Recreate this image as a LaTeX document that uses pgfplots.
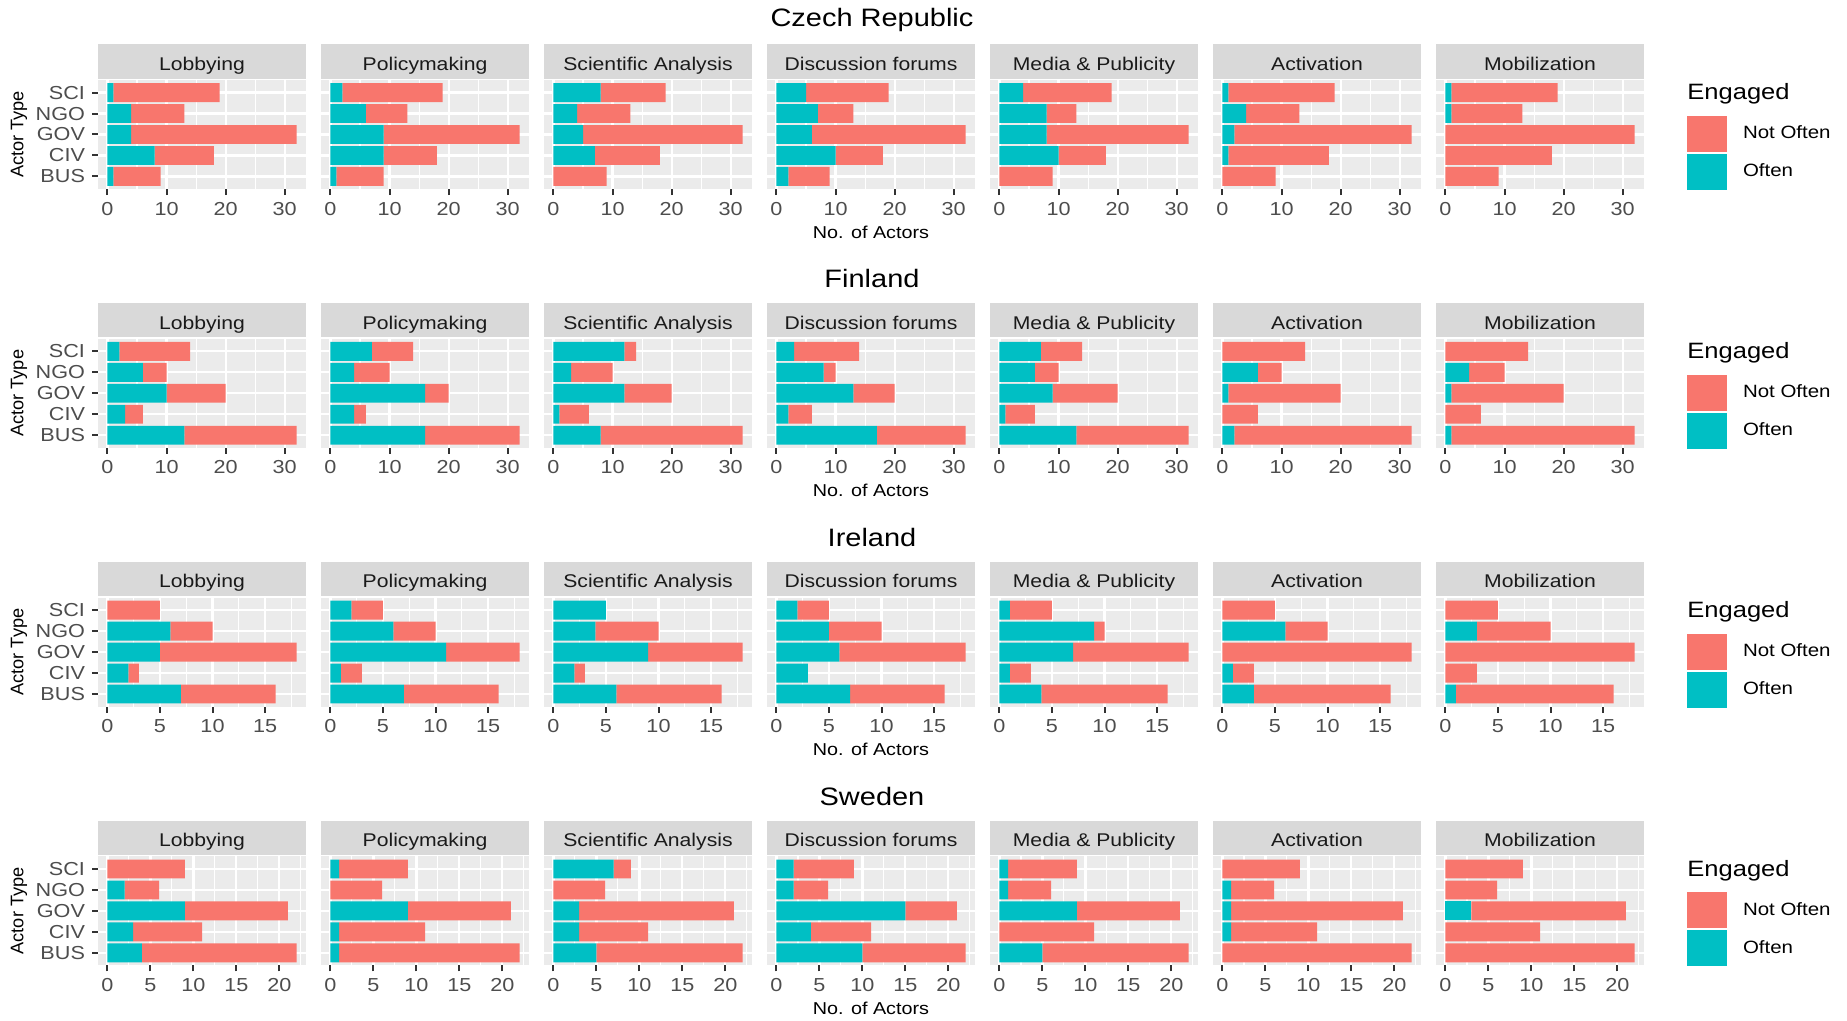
\documentclass[border=0pt]{standalone}
\usepackage{pgfplots}
\usepackage{pgfplotstable}
\pgfplotsset{compat=1.18}
\usepackage{fontspec}
\setmainfont{Liberation Sans}[FakeStretch=1.15]
\newfontfamily\plainsans{Liberation Sans}
\definecolor{nofc}{HTML}{F8766D}
\definecolor{ofc}{HTML}{00BFC4}
\definecolor{ggbg}{HTML}{EBEBEB}
\definecolor{stripbg}{HTML}{D9D9D9}
\definecolor{ggtick}{HTML}{4D4D4D}
\definecolor{ggtickline}{HTML}{333333}
\definecolor{stript}{HTML}{1A1A1A}

% y: 1=BUS 2=CIV 3=GOV 4=NGO 5=SCI ; o = Often, n = Not Often
\pgfplotstableread{
y oLob nLob oPol nPol oSci nSci oDis nDis oMed nMed oAct nAct oMob nMob
1 1 8 1 8 0 9 2 7 0 9 0 9 0 9
2 8 10 9 9 7 11 10 8 10 8 1 17 0 18
3 4 28 9 23 5 27 6 26 8 24 2 30 0 32
4 4 9 6 7 4 9 7 6 8 5 4 9 1 12
5 1 18 2 17 8 11 5 14 4 15 1 18 1 18
}\czech
\pgfplotstableread{
y oLob nLob oPol nPol oSci nSci oDis nDis oMed nMed oAct nAct oMob nMob
1 13 19 16 16 8 24 17 15 13 19 2 30 1 31
2 3 3 4 2 1 5 2 4 1 5 0 6 0 6
3 10 10 16 4 12 8 13 7 9 11 1 19 1 19
4 6 4 4 6 3 7 8 2 6 4 6 4 4 6
5 2 12 7 7 12 2 3 11 7 7 0 14 0 14
}\finland
\pgfplotstableread{
y oLob nLob oPol nPol oSci nSci oDis nDis oMed nMed oAct nAct oMob nMob
1 7 9 7 9 6 10 7 9 4 12 3 13 1 15
2 2 1 1 2 2 1 3 0 1 2 1 2 0 3
3 5 13 11 7 9 9 6 12 7 11 0 18 0 18
4 6 4 6 4 4 6 5 5 9 1 6 4 3 7
5 0 5 2 3 5 0 2 3 1 4 0 5 0 5
}\ireland
\pgfplotstableread{
y oLob nLob oPol nPol oSci nSci oDis nDis oMed nMed oAct nAct oMob nMob
1 4 18 1 21 5 17 10 12 5 17 0 22 0 22
2 3 8 1 10 3 8 4 7 0 11 1 10 0 11
3 9 12 9 12 3 18 15 6 9 12 1 20 3 18
4 2 4 0 6 0 6 2 4 1 5 1 5 0 6
5 0 9 1 8 7 2 2 7 1 8 0 9 0 9
}\sweden

\pgfplotsset{
 ggpanel/.style={
  scale only axis, width=104pt, height=54.5pt, anchor=north west,
  xbar stacked, bar width=0.9,
  ymin=0.4, ymax=5.6, ytick={1,2,3,4,5},
  axis background/.style={fill=ggbg},
  axis line style={draw=none},
  xmajorgrids, xminorgrids, ymajorgrids,
  major grid style={white, line width=1.1pt},
  minor grid style={white, line width=0.55pt},
  tick align=outside, tick pos=left,
  major tick length=3pt, minor tick length=0pt,
  xtick style={draw=ggtickline, line width=1pt},
  /pgf/number format/assume math mode=true,
  tick label style={font=\fontsize{9.4}{11}\selectfont, text=ggtick},
  every axis title/.style={at={(0.5,1)}, anchor=south, yshift=0.5pt,
    fill=stripbg, minimum width=104pt, minimum height=17.25pt, inner sep=0pt,
    text height=10.4pt, text depth=1.4pt,
    font=\fontsize{9.2}{11}\selectfont, text=stript},
 },
 leftcol/.style={yticklabels={BUS,CIV,GOV,NGO,SCI},
   ytick style={draw=ggtickline, line width=1pt},
   ylabel={Actor Type},
   every axis y label/.style={at={(axis description cs:-0.38,0.5)}, rotate=90, anchor=center,
     font=\plainsans\fontsize{9.1}{11}\selectfont, text=black}},
 othercol/.style={yticklabels={}, ytick style={draw=none}},
 midcol/.style={othercol, xlabel={No. of Actors},
   every axis x label/.style={at={(axis description cs:0.5,-0.394)}, anchor=center,
     font=\fontsize{8.6}{10}\selectfont, text=black}},
 lastcol/.style={othercol, legend entries={Often,Not Often}, reverse legend,
   legend style={at={(axis description cs:1,1)}, anchor=north west, xshift=21.5pt, yshift=-18pt,
     draw=none, fill=none, inner sep=0pt, outer sep=0pt, row sep=1pt, column sep=8pt,
     nodes={inner sep=0pt}, font=\fontsize{8.9}{10}\selectfont, cells={anchor=west}},
   legend image code/.code={\fill[##1] (0pt,-9pt) rectangle (20pt,9pt);}},
 czx/.style={xmin=-1.6, xmax=33.6, xtick={0,10,20,30}, minor xtick={5,15,25}},
 irx/.style={xmin=-0.9, xmax=18.9, xtick={0,5,10,15}, minor xtick={2.5,7.5,12.5,17.5}},
 swx/.style={xmin=-1.1, xmax=23.1, xtick={0,5,10,15,20}, minor xtick={2.5,7.5,12.5,17.5,22.5}},
 cur/.style={czx},
}

\newcommand{\panel}[6]{%
 \pgfmathsetmacro{\px}{(98+#3*223)*0.5}%
 \pgfmathsetmacro{\py}{-(80+#2*258.8)*0.5}%
 \begin{axis}[ggpanel, cur, at={(\px pt,\py pt)}, title={#5}, #6]
  \addplot[fill=ofc, draw=none] table[x=o#4, y=y]{#1};
  \addplot[fill=nofc, draw=none] table[x=n#4, y=y]{#1};
 \end{axis}}

\newcommand{\country}[3]{% #1 table, #2 row, #3 name
 \pgfmathsetmacro{\ty}{-(20.1+#2*258.8)*0.5}%
 \pgfmathsetmacro{\ly}{-(100+#2*258.8)*0.5}%
 \node[anchor=center, font=\fontsize{12.6}{14}\selectfont, text=black] at (436pt,\ty pt) {#3};
 \node[anchor=base west, font=\fontsize{11.1}{13}\selectfont, text=black, inner sep=0pt] at (843.5pt,\ly pt) {Engaged};
 \panel{#1}{#2}{0}{Lob}{Lobbying}{leftcol}
 \panel{#1}{#2}{1}{Pol}{Policymaking}{othercol}
 \panel{#1}{#2}{2}{Sci}{Scientific Analysis}{othercol}
 \panel{#1}{#2}{3}{Dis}{Discussion forums}{midcol}
 \panel{#1}{#2}{4}{Med}{Media \& Publicity}{othercol}
 \panel{#1}{#2}{5}{Act}{Activation}{othercol}
 \panel{#1}{#2}{6}{Mob}{Mobilization}{lastcol}
}

\begin{document}
\begin{tikzpicture}
\path[use as bounding box] (0,0) rectangle (923.5pt,-510.5pt);
\pgfplotsset{cur/.style={czx}}
\country{\czech}{0}{Czech Republic}
\pgfplotsset{cur/.style={czx}}
\country{\finland}{1}{Finland}
\pgfplotsset{cur/.style={irx}}
\country{\ireland}{2}{Ireland}
\pgfplotsset{cur/.style={swx}}
\country{\sweden}{3}{Sweden}
\end{tikzpicture}
\end{document}
